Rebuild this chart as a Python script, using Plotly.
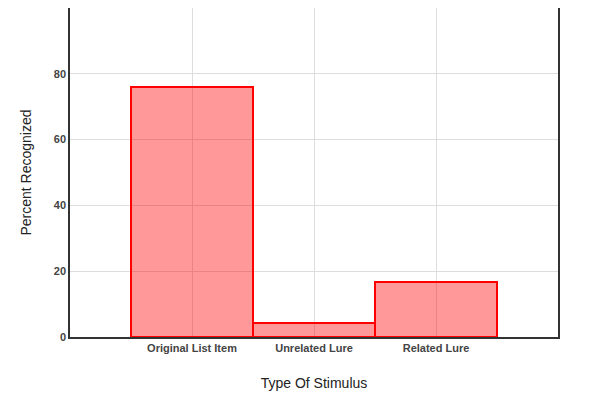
import plotly.graph_objects as go

categories = ["Original List Item", "Unrelated Lure", "Related Lure"]
percent = [76, 4.3, 16.8]
y_ticks = [0, 20, 40, 60, 80, 100]

fig = go.Figure(go.Bar(
    x=categories, y=percent,
    marker=dict(color="rgba(255,0,0,0.4)", line=dict(color="red", width=2)),
))

fig.update_layout(
    width=600, height=400,
    margin=dict(l=62, r=50, t=0, b=71),
    plot_bgcolor="white", paper_bgcolor="white",
    bargap=0, showlegend=False,
    font=dict(family="Arial, Liberation Sans", color="#333"),
)
fig.update_xaxes(
    range=[-1, 3], showgrid=True, gridcolor="#ddd", automargin=False,
    showline=True, linecolor="#333", linewidth=1.5, mirror=True,
    tickfont=dict(size=11, color="#444", weight="bold"),
    title=dict(text="Type Of Stimulus", font=dict(size=14, color="#222"), standoff=25),
)
fig.update_yaxes(
    range=[0, 100], tickvals=y_ticks, showgrid=True, gridcolor="#ddd", automargin=False,
    showline=True, linecolor="#333", linewidth=1.5, mirror=True, zeroline=False,
    tickfont=dict(size=11, color="#444", weight="bold"),
    title=dict(text="Percent Recognized", font=dict(size=14, color="#222"), standoff=19),
)

fig.write_html("out.html")
